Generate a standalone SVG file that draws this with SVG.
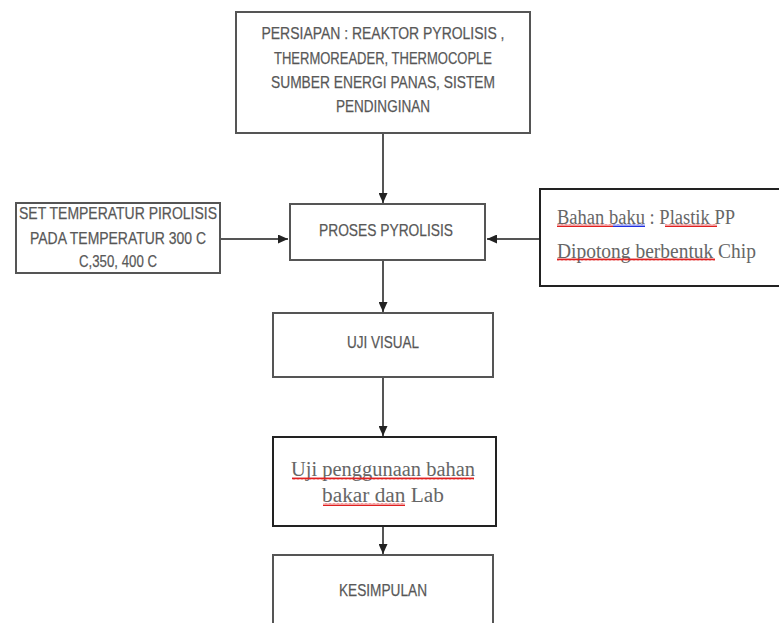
<svg xmlns="http://www.w3.org/2000/svg" width="779" height="623" viewBox="0 0 779 623">
<style>
.box{fill:#fff;stroke:#555;stroke-width:2}
.bx2{fill:#fff;stroke:#222;stroke-width:2}
.t{font-family:"Liberation Sans",Arial,sans-serif;font-size:16.5px;fill:#555;stroke:#666;stroke-width:0.25;text-anchor:middle}
.s{font-family:"Liberation Serif","Times New Roman",serif;font-size:20px;fill:#666}
.c{stroke:#555;stroke-width:2;fill:none}
</style>
<defs>
<marker id="ah" viewBox="0 0 10 10" refX="10" refY="5" markerWidth="5" markerHeight="4.5" orient="auto" markerUnits="strokeWidth" preserveAspectRatio="none">
<path d="M0,0 L10,5 L0,10 z" fill="#222"/>
</marker>
<pattern id="wv" width="4" height="3" patternUnits="userSpaceOnUse">
<path d="M0,2.5 L1,0.5 L2,2.5 L3,0.5 L4,2.5" stroke="#e02020" stroke-width="1" fill="none"/>
</pattern>
<pattern id="wb" width="4" height="3" patternUnits="userSpaceOnUse">
<path d="M0,2.5 L1,0.5 L2,2.5 L3,0.5 L4,2.5" stroke="#2030e0" stroke-width="1" fill="none"/>
</pattern>
</defs>
<rect width="779" height="623" fill="#fff"/>
<g id="connectors">
<line class="c" x1="383" y1="133" x2="383" y2="203" marker-end="url(#ah)"/>
<line class="c" x1="221" y1="239" x2="288" y2="239" marker-end="url(#ah)"/>
<line class="c" x1="540" y1="239" x2="487" y2="239" marker-end="url(#ah)"/>
<line class="c" x1="383" y1="260" x2="383" y2="312" marker-end="url(#ah)"/>
<line class="c" x1="383" y1="377" x2="383" y2="436" marker-end="url(#ah)"/>
<line class="c" x1="383" y1="526" x2="383" y2="554" marker-end="url(#ah)"/>
</g>
<g id="persiapan">
<rect class="box" x="236" y="12" width="294" height="121"/>
<text class="t" x="383" y="39" textLength="243" lengthAdjust="spacingAndGlyphs">PERSIAPAN : REAKTOR PYROLISIS ,</text>
<text class="t" x="383" y="64" textLength="218" lengthAdjust="spacingAndGlyphs">THERMOREADER, THERMOCOPLE</text>
<text class="t" x="383" y="88" textLength="224" lengthAdjust="spacingAndGlyphs">SUMBER ENERGI PANAS, SISTEM</text>
<text class="t" x="383" y="112" textLength="94" lengthAdjust="spacingAndGlyphs">PENDINGINAN</text>
</g>
<g id="set-temperatur">
<rect class="box" x="16" y="203" width="204" height="70"/>
<text class="t" x="118" y="219" textLength="198" lengthAdjust="spacingAndGlyphs">SET TEMPERATUR PIROLISIS</text>
<text class="t" x="118" y="244" textLength="176" lengthAdjust="spacingAndGlyphs">PADA TEMPERATUR 300 C</text>
<text class="t" x="118" y="267" textLength="78" lengthAdjust="spacingAndGlyphs">C,350, 400 C</text>
</g>
<g id="proses">
<rect class="box" x="290" y="204" width="195" height="56"/>
<text class="t" x="386" y="236" textLength="134" lengthAdjust="spacingAndGlyphs">PROSES PYROLISIS</text>
</g>
<g id="bahan-baku">
<rect class="bx2" x="540" y="189" width="245" height="97"/>
<text class="s" x="557" y="224" textLength="178" lengthAdjust="spacingAndGlyphs">Bahan baku : Plastik PP</text>
<text class="s" x="557" y="258" textLength="199" lengthAdjust="spacingAndGlyphs">Dipotong berbentuk Chip</text>
<rect x="557" y="224" width="56" height="3" fill="url(#wv)"/>
<rect x="613" y="224" width="32" height="3" fill="url(#wb)"/>
<rect x="665" y="224" width="52" height="3" fill="url(#wv)"/>
<rect x="557" y="258" width="158" height="3" fill="url(#wv)"/>
</g>
<g id="uji-visual">
<rect class="box" x="273" y="313" width="220" height="64"/>
<text class="t" x="383" y="348" textLength="72" lengthAdjust="spacingAndGlyphs">UJI VISUAL</text>
</g>
<g id="uji-penggunaan">
<rect class="bx2" x="273" y="437" width="223" height="89"/>
<text class="s" x="383" y="476" text-anchor="middle" textLength="184" lengthAdjust="spacingAndGlyphs">Uji penggunaan bahan</text>
<text class="s" x="383" y="502" text-anchor="middle" textLength="122" lengthAdjust="spacingAndGlyphs">bakar dan Lab</text>
<rect x="292" y="477" width="182" height="3" fill="url(#wv)"/>
<rect x="323" y="503" width="82" height="3" fill="url(#wv)"/>
</g>
<g id="kesimpulan">
<rect class="box" x="273" y="555" width="220" height="80"/>
<text class="t" x="383" y="596" textLength="88" lengthAdjust="spacingAndGlyphs">KESIMPULAN</text>
</g>
</svg>
